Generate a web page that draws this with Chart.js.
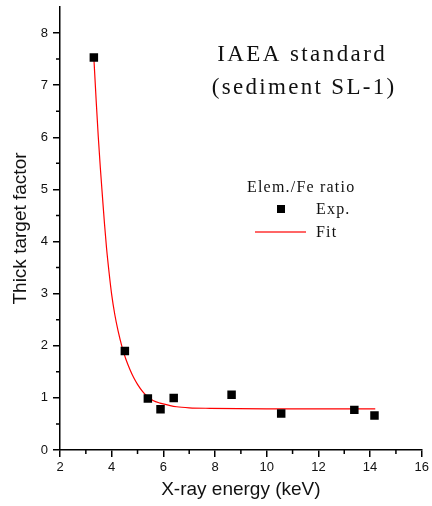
<!DOCTYPE html>
<html>
<head>
<meta charset="utf-8">
<script src="https://cdn.jsdelivr.net/npm/chart.js@4"></script>
<style>
  body { margin: 0; background: #fff; }
  #wrap { width: 432px; height: 506px; }
</style>
</head>
<body>
<div id="wrap"><canvas id="chart" width="432" height="506"></canvas></div>
<script>
const expEnergy = [3.31, 4.51, 5.40, 5.89, 6.40, 8.64, 10.56, 13.39, 14.17];
const expFactor = [7.53, 1.90, 0.99, 0.78, 1.00, 1.06, 0.70, 0.77, 0.66];

// fit curve, sampled by eye along the red line
const fitEnergy = [3.31, 3.40, 3.48, 3.56, 3.64, 3.72, 3.80, 3.90, 4.00, 4.12, 4.25, 4.40,
  4.55, 4.71, 4.85, 5.00, 5.20, 5.35, 5.60, 5.87, 6.20, 6.51, 7.00, 7.80, 10.0, 12.0, 14.2];
const fitFactor = [7.53, 6.70, 6.02, 5.42, 4.88, 4.35, 3.88, 3.40, 2.98, 2.60, 2.28, 1.98,
  1.74, 1.54, 1.39, 1.26, 1.12, 1.04, 0.95, 0.90, 0.86, 0.83, 0.81, 0.80, 0.79, 0.79, 0.79];

const xMinorTicks = [3, 5, 7, 9, 11, 13, 15];
const yMinorTicks = [0.5, 1.5, 2.5, 3.5, 4.5, 5.5, 6.5, 7.5];

const titleLines = ["IAEA standard", "(sediment SL-1)"];
const legendTitle = "Elem./Fe ratio";

const toPoints = (xs, ys) => xs.map((x, i) => ({ x: x, y: ys[i] }));

// draw text with extra letter spacing
function spacedText(ctx, text, x, y, spacing, align) {
  let total = 0;
  for (const ch of text) total += ctx.measureText(ch).width;
  total += spacing * (text.length - 1);
  let cx = align === "center" ? x - total / 2 : x;
  ctx.textAlign = "left";
  for (const ch of text) {
    ctx.fillText(ch, cx, y);
    cx += ctx.measureText(ch).width + spacing;
  }
}

const decorPlugin = {
  id: "decor",
  afterDraw(chart) {
    const ctx = chart.ctx;
    const xs = chart.scales.x;
    const ys = chart.scales.y;

    // minor ticks
    ctx.save();
    ctx.strokeStyle = "#000";
    ctx.lineWidth = 1.5;
    ctx.beginPath();
    xMinorTicks.forEach((v) => {
      const px = xs.getPixelForValue(v);
      ctx.moveTo(px, xs.top);
      ctx.lineTo(px, xs.top + 4);
    });
    yMinorTicks.forEach((v) => {
      const py = ys.getPixelForValue(v);
      ctx.moveTo(ys.right, py);
      ctx.lineTo(ys.right - 4, py);
    });
    ctx.stroke();

    // title text
    ctx.fillStyle = "#111";
    ctx.textBaseline = "alphabetic";
    ctx.font = "23px 'Liberation Serif', 'Times New Roman', serif";
    spacedText(ctx, titleLines[0], 301, 61, 2.4, "center");
    spacedText(ctx, titleLines[1], 303, 93.5, 2.3, "center");

    // legend
    ctx.font = "16px 'Liberation Serif', 'Times New Roman', serif";
    spacedText(ctx, legendTitle, 247, 192, 1.2, "left");
    spacedText(ctx, "Exp.", 316, 214, 1.2, "left");
    spacedText(ctx, "Fit", 316, 237, 1.2, "left");
    ctx.fillStyle = "#000";
    ctx.fillRect(277, 205, 8, 8);
    ctx.strokeStyle = "rgba(255,0,0,0.6)";
    ctx.lineWidth = 2;
    ctx.beginPath();
    ctx.moveTo(255, 232);
    ctx.lineTo(306, 232);
    ctx.stroke();
    ctx.restore();
  },
};

new Chart(document.getElementById("chart"), {
  type: "scatter",
  data: {
    datasets: [
      {
        label: "Exp.",
        data: toPoints(expEnergy, expFactor),
        pointStyle: "rect",
        pointRadius: 6,
        pointHoverRadius: 6,
        backgroundColor: "#000",
        borderColor: "#000",
        borderWidth: 0,
        showLine: false,
      },
      {
        label: "Fit",
        data: toPoints(fitEnergy, fitFactor),
        showLine: true,
        pointRadius: 0,
        borderColor: "#ff0000",
        borderWidth: 1.2,
        cubicInterpolationMode: "monotone",
        fill: false,
      },
    ],
  },
  options: {
    responsive: false,
    animation: false,
    layout: { padding: { top: 7, right: 10, left: 0, bottom: 0 } },
    plugins: {
      legend: { display: false },
      tooltip: { enabled: false },
    },
    scales: {
      x: {
        type: "linear",
        min: 2,
        max: 16,
        ticks: {
          stepSize: 2,
          includeBounds: false,
          color: "#111",
          padding: 3,
          font: { family: "'Liberation Sans', Arial, sans-serif", size: 13 },
        },
        grid: { drawOnChartArea: false, tickLength: 7, color: "#000", lineWidth: 1.5 },
        border: { color: "#000", width: 1.5 },
        title: {
          display: true,
          text: "X-ray energy (keV)",
          color: "#111",
          padding: { top: 4, bottom: 5 },
          font: { family: "'Liberation Sans', Arial, sans-serif", size: 19 },
        },
        afterFit(scale) { scale.height = 56; },
      },
      y: {
        type: "linear",
        min: 0,
        max: 8.5,
        ticks: {
          stepSize: 1,
          includeBounds: false,
          color: "#111",
          padding: 5,
          font: { family: "'Liberation Sans', Arial, sans-serif", size: 13 },
        },
        grid: { drawOnChartArea: false, tickLength: 7, color: "#000", lineWidth: 1.5 },
        border: { color: "#000", width: 1.5 },
        title: {
          display: true,
          text: "Thick target factor",
          color: "#111",
          padding: { top: 9.5, bottom: 4 },
          font: { family: "'Liberation Sans', Arial, sans-serif", size: 19 },
        },
        afterFit(scale) {
          scale.width = 60;
          scale.paddingTop = 0;
          scale.paddingBottom = 0;
        },
      },
    },
  },
  plugins: [decorPlugin],
});
</script>
</body>
</html>
